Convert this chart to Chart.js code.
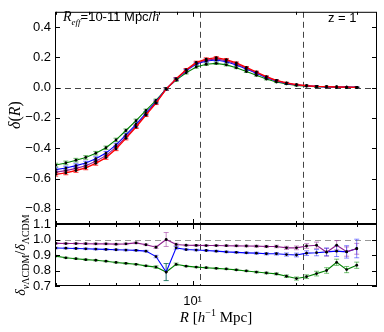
<!DOCTYPE html>
<html><head><meta charset="utf-8">
<script src="https://cdn.jsdelivr.net/npm/chart.js@4.4.0/dist/chart.umd.min.js"></script>
<style>
html,body{margin:0;padding:0;background:#fff;}
#wrap{position:relative;width:384px;height:332px;overflow:hidden;background:#fff;}
canvas{position:absolute;left:0;top:0;}
.lbl{position:absolute;white-space:nowrap;color:#000;line-height:1;}
.serif{font-family:"Liberation Serif","DejaVu Serif",serif;}
.sans{font-family:"Liberation Sans",Arial,sans-serif;}
.rot{transform:translate(-50%,-50%) rotate(-90deg);}
.ctr{transform:translate(-50%,-50%);}
sub,sup{line-height:0;}
</style></head><body>
<div id="wrap">
<canvas id="cTop" width="384" height="332"></canvas>
<canvas id="cBot" width="384" height="332"></canvas>
<div class="lbl sans" style="left:63px;top:10px;font-size:13px;"><span class="serif" style="font-style:italic;font-size:14px">R<sub style="font-size:9px">eff</sub></span>=10-11 Mpc/<span class="serif" style="font-style:italic;font-size:14px">h</span></div>
<div class="lbl sans" style="left:328px;top:11px;font-size:13px;">z = 1</div>
<div class="lbl serif rot" style="left:15px;top:115px;font-size:16px;"><i>δ</i>(<i>R</i>)</div>
<div class="lbl serif rot" style="left:21px;top:255px;font-size:14px;"><i>δ</i><sub style="font-size:10px"><i>ν</i>ΛCDM</sub>/<i>δ</i><sub style="font-size:10px">ΛCDM</sub></div>
<div class="lbl serif ctr" style="left:216px;top:317px;font-size:15px;"><i>R</i> [<i>h</i><sup style="font-size:10px">−1</sup> Mpc]</div>
</div>
<script>
// ---------- data ----------
const R = [4.00,4.28,4.58,4.89,5.23,5.60,5.99,6.40,6.85,7.32,7.83,8.38,8.96,9.58,10.25,10.96,11.72,12.54,13.41,14.34,15.34,16.40,17.54,18.76,20.06,21.46,22.95,24.54,26.25,28.07,30.03];

const deltaLCDM   = [-0.572,-0.563,-0.547,-0.530,-0.500,-0.462,-0.405,-0.335,-0.260,-0.182,-0.103,-0.010,0.058,0.118,0.166,0.188,0.197,0.185,0.163,0.133,0.103,0.072,0.048,0.031,0.019,0.012,0.008,0.006,0.004,0.003,0.002];
const deltaNuA    = [-0.558,-0.548,-0.533,-0.516,-0.486,-0.449,-0.393,-0.326,-0.254,-0.176,-0.098,-0.010,0.056,0.114,0.160,0.181,0.189,0.178,0.156,0.127,0.099,0.069,0.046,0.029,0.018,0.012,0.008,0.006,0.004,0.003,0.002];
const deltaNuB    = [-0.541,-0.531,-0.515,-0.498,-0.469,-0.432,-0.378,-0.312,-0.242,-0.168,-0.092,-0.008,0.055,0.110,0.155,0.175,0.182,0.170,0.149,0.122,0.094,0.065,0.044,0.028,0.017,0.011,0.007,0.005,0.004,0.003,0.002];
const deltaNuC    = [-0.511,-0.497,-0.479,-0.461,-0.433,-0.397,-0.345,-0.283,-0.218,-0.151,-0.085,-0.008,0.049,0.098,0.136,0.154,0.160,0.150,0.131,0.106,0.081,0.056,0.037,0.024,0.014,0.009,0.006,0.005,0.003,0.002,0.002];
const errTop      = [0.012,0.012,0.012,0.012,0.012,0.011,0.011,0.010,0.010,0.009,0.009,0.008,0.008,0.008,0.008,0.008,0.007,0.007,0.006,0.006,0.005,0.005,0.004,0.004,0.003,0.003,0.003,0.002,0.002,0.002,0.002];

const ratioA = [0.975,0.974,0.974,0.973,0.972,0.972,0.970,0.972,0.978,0.966,0.950,1.000,0.968,0.963,0.962,0.961,0.961,0.960,0.959,0.958,0.957,0.955,0.955,0.946,0.946,0.958,0.963,0.918,0.963,0.922,0.940];
const ratioB = [0.945,0.944,0.942,0.940,0.938,0.936,0.934,0.932,0.930,0.925,0.890,0.790,0.946,0.935,0.932,0.929,0.925,0.920,0.917,0.914,0.912,0.908,0.908,0.903,0.900,0.912,0.915,0.920,0.925,0.920,0.942];
const ratioC = [0.893,0.882,0.876,0.870,0.866,0.860,0.852,0.846,0.840,0.830,0.822,0.790,0.840,0.828,0.822,0.818,0.814,0.810,0.804,0.797,0.790,0.784,0.778,0.763,0.748,0.760,0.780,0.800,0.853,0.806,0.834];
const errA = [0.005,0.005,0.005,0.005,0.005,0.005,0.005,0.005,0.005,0.005,0.008,0.045,0.008,0.005,0.005,0.005,0.005,0.005,0.005,0.005,0.006,0.007,0.008,0.010,0.012,0.015,0.020,0.025,0.030,0.030,0.035];
const errB = [0.005,0.005,0.005,0.005,0.005,0.005,0.005,0.005,0.005,0.005,0.008,0.055,0.008,0.005,0.005,0.005,0.005,0.005,0.005,0.005,0.006,0.007,0.008,0.010,0.012,0.015,0.020,0.025,0.035,0.040,0.060];
const errC = [0.004,0.004,0.004,0.004,0.004,0.004,0.004,0.004,0.004,0.004,0.008,0.055,0.008,0.004,0.004,0.004,0.004,0.004,0.004,0.004,0.005,0.005,0.006,0.008,0.010,0.012,0.015,0.018,0.020,0.020,0.020];

const yTicksTop = [-0.8,-0.6,-0.4,-0.2,0.0,0.2,0.4];
const yTicksBot = [0.7,0.8,0.9,1.0,1.1];
const xMajorTicks = [10];
const xMinorTicks = [4,5,6,7,8,9,20,30];
const refLinesX = [10.5, 21];
const xRange = [3.98, 34.4];

// ---------- helpers ----------
const pts = arr => arr.map((v,i)=>({x:R[i], y:v}));
const fmt = v => (Math.abs(v)<1e-9 ? '0.0' : v.toFixed(1)).replace('-', '\u2212');

const panelPlugin = {
  id: 'panel',
  beforeDatasetsDraw(chart, args, o) {
    const {ctx, chartArea:a, scales:{x, y}} = chart;
    ctx.save();
    ctx.beginPath(); ctx.rect(a.left, a.top, a.right-a.left, a.bottom-a.top); ctx.clip();
    ctx.lineWidth = 1;
    ctx.setLineDash([6,4]);
    ctx.strokeStyle = o.hColor;
    o.hLines.forEach(v => { const py = Math.round(y.getPixelForValue(v))+0.5;
      ctx.beginPath(); ctx.moveTo(a.left, py); ctx.lineTo(a.right, py); ctx.stroke(); });
    ctx.strokeStyle = '#444';
    refLinesX.forEach(v => { const px = Math.round(x.getPixelForValue(v))+0.5;
      ctx.beginPath(); ctx.moveTo(px, a.top); ctx.lineTo(px, a.bottom); ctx.stroke(); });
    ctx.setLineDash([]);
    chart.data.datasets.forEach((ds, di) => {
      if (!ds.errors) return;
      ctx.strokeStyle = ds.errColor; ctx.lineWidth = 1;
      ds.data.forEach((p, i) => {
        const e = ds.errors[i]; const px = x.getPixelForValue(p.x);
        const y1 = y.getPixelForValue(p.y - e), y2 = y.getPixelForValue(p.y + e);
        ctx.beginPath();
        ctx.moveTo(px, y1); ctx.lineTo(px, y2);
        ctx.moveTo(px-2.5, y1); ctx.lineTo(px+2.5, y1);
        ctx.moveTo(px-2.5, y2); ctx.lineTo(px+2.5, y2);
        ctx.stroke();
      });
    });
    ctx.restore();
  },
  afterDraw(chart, args, o) {
    const {ctx, chartArea:a, scales:{x, y}} = chart;
    ctx.save();
    ctx.strokeStyle = '#000'; ctx.lineWidth = 1;
    ctx.strokeRect(a.left+0.5, a.top+0.5, a.right-a.left-1, a.bottom-a.top-1);
    ctx.beginPath();
    xMajorTicks.concat(xMinorTicks).forEach(v => {
      const len = xMajorTicks.includes(v) ? 5 : 3;
      const px = Math.round(x.getPixelForValue(v))+0.5;
      ctx.moveTo(px, a.bottom); ctx.lineTo(px, a.bottom-len);
      ctx.moveTo(px, a.top); ctx.lineTo(px, a.top+len);
    });
    o.yTicks.forEach(v => {
      const py = Math.round(y.getPixelForValue(v))+0.5;
      ctx.moveTo(a.left, py); ctx.lineTo(a.left+5, py);
      ctx.moveTo(a.right, py); ctx.lineTo(a.right-5, py);
    });
    ctx.stroke();
    ctx.restore();
  }
};

const tickFont = {family:'"Liberation Sans", Arial, sans-serif', size:13};
function lineDs(data, color, errs, errColor, w) {
  return {data, borderColor:color, borderWidth:w||1.1, pointRadius:1.4, pointHoverRadius:0,
    pointBackgroundColor:'#000', pointBorderWidth:0, tension:0, fill:false,
    errors:errs, errColor};
}
function yAxis(min, max, ticksArr) {
  return {type:'linear', min, max,
    afterFit: s => { s.width = 55; },
    afterBuildTicks: s => { s.ticks = ticksArr.map(v => ({value:v})); },
    grid:{display:false, drawTicks:false}, border:{display:false},
    ticks:{font:tickFont, color:'#000', padding:4, autoSkip:false, callback: v => fmt(v)}};
}

new Chart(document.getElementById('cTop'), {
  type:'line',
  data:{datasets:[
    lineDs(pts(deltaLCDM), '#ff0000', errTop, 'rgba(255,0,0,0.8)', 1.3),
    lineDs(pts(deltaNuA), '#8e1e8e', errTop, 'rgba(142,30,142,0.6)'),
    lineDs(pts(deltaNuB), '#0000ff', errTop, 'rgba(0,0,255,0.6)'),
    lineDs(pts(deltaNuC), '#008000', errTop, 'rgba(0,128,0,0.6)')
  ]},
  options:{responsive:false, animation:false, events:[],
    layout:{padding:{left:0, right:7, top:7, bottom:108}},
    plugins:{legend:{display:false}, tooltip:{enabled:false},
      panel:{hLines:[0], hColor:'#444', yTicks:yTicksTop}},
    scales:{
      x:{type:'logarithmic', min:xRange[0], max:xRange[1], display:false},
      y:yAxis(-0.9, 0.5, yTicksTop)
    }},
  plugins:[panelPlugin]
});

new Chart(document.getElementById('cBot'), {
  type:'line',
  data:{datasets:[
    lineDs(pts(ratioA), '#8e1e8e', errA, 'rgba(160,60,160,0.6)'),
    lineDs(pts(ratioB), '#0000ff', errB, 'rgba(40,40,255,0.55)'),
    lineDs(pts(ratioC), '#008000', errC, 'rgba(0,140,0,0.55)')
  ]},
  options:{responsive:false, animation:false, events:[],
    layout:{padding:{left:0, right:7, top:224, bottom:0}},
    plugins:{legend:{display:false}, tooltip:{enabled:false},
      panel:{hLines:[1.0], hColor:'#999', yTicks:yTicksBot}},
    scales:{
      x:{type:'logarithmic', min:xRange[0], max:xRange[1],
        afterFit: s => { s.height = 46; },
        afterBuildTicks: s => { s.ticks = xMajorTicks.map(v => ({value:v})); },
        grid:{display:false, drawTicks:false}, border:{display:false},
        ticks:{font:tickFont, color:'#000', padding:8, autoSkip:false, maxRotation:0, minRotation:0,
          callback: v => v === 10 ? '10\u00B9' : ''}},
      y:yAxis(0.7, 1.1, yTicksBot)
    }},
  plugins:[panelPlugin]
});
</script>
</body></html>
